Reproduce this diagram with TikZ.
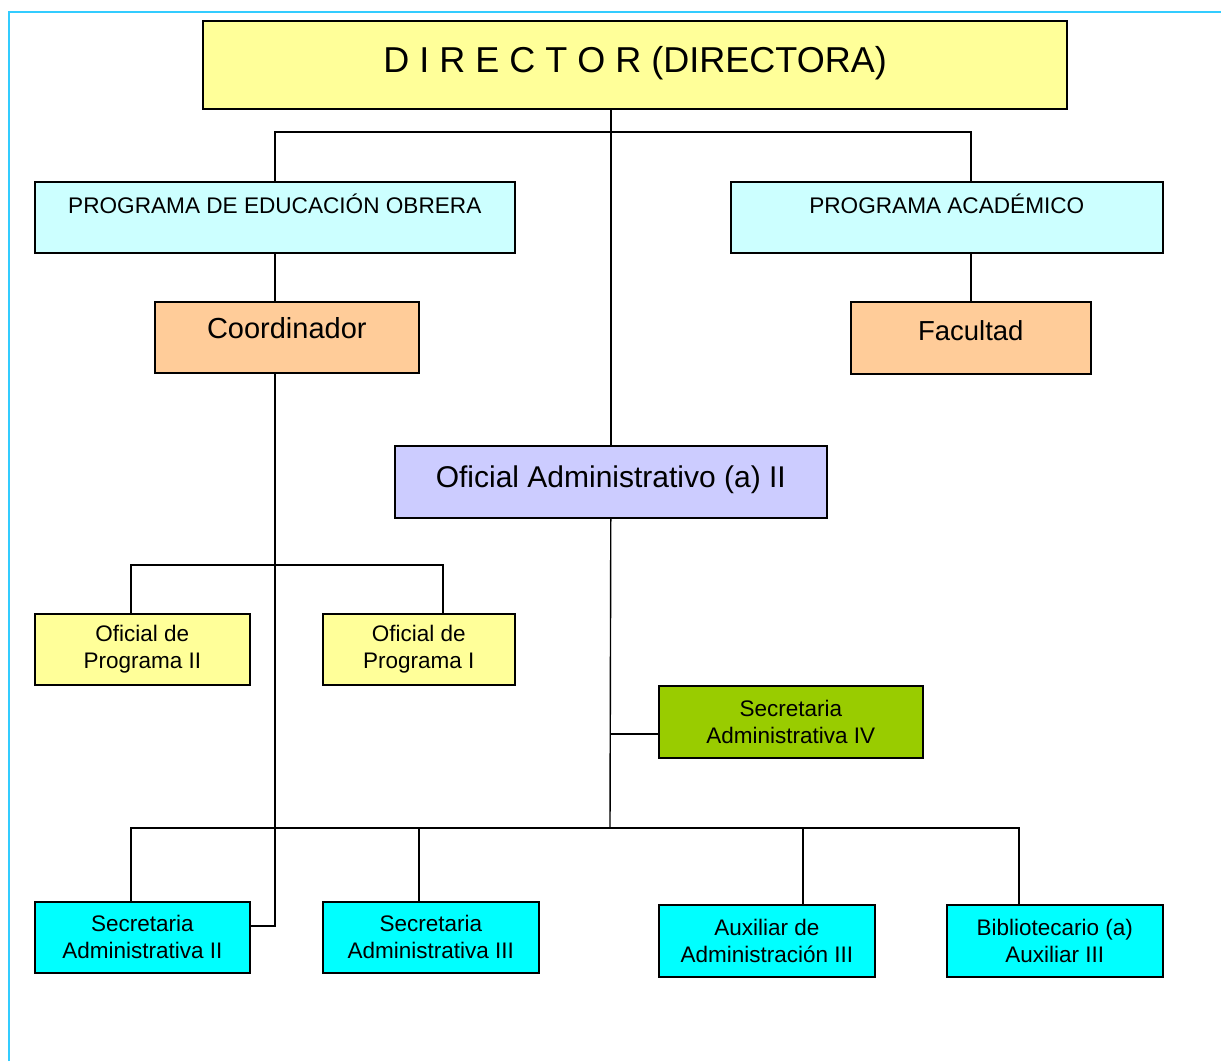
\documentclass[tikz,border=0pt]{standalone}
\usepackage{fontspec}
\setmainfont{Liberation Sans}
\definecolor{dirY}{HTML}{FFFF99}
\definecolor{progC}{HTML}{CCFFFF}
\definecolor{orgO}{HTML}{FFCC99}
\definecolor{lavL}{HTML}{CCCCFF}
\definecolor{grnG}{HTML}{99CC00}
\definecolor{cyaC}{HTML}{00FFFF}
\definecolor{frameB}{HTML}{33CCFF}
\begin{document}
\begin{tikzpicture}[x=1pt,y=-1pt,
  box/.style={draw=black, line width=1.6pt, rectangle, anchor=north west, inner sep=0pt, align=center, text=black},
  small/.style={font=\fontsize{22.5}{27}\selectfont},
  conn/.style={draw=black, line width=1.4pt}]
\useasboundingbox (0,0) rectangle (1221,1061);
\draw[frameB, line width=1.5pt] (9,1061) -- (9,12) -- (1221,12);

% boxes
\node[box, line width=2.2pt, fill=dirY, minimum width=864pt, minimum height=88pt, text depth=12pt, font=\fontsize{36}{43}\selectfont] (dir) at (202,20) {D I R E C T O R (DIRECTORA)};
\node[box, fill=progC, minimum width=480pt, minimum height=71pt, text depth=27pt, font=\fontsize{22.6}{28}\selectfont] (peo) at (34,181) {PROGRAMA DE EDUCACIÓN OBRERA};
\node[box, fill=progC, minimum width=432pt, minimum height=71pt, text depth=27pt, font=\fontsize{22.6}{28}\selectfont] (pac) at (730,181) {PROGRAMA ACADÉMICO};
\node[box, fill=orgO, minimum width=264pt, minimum height=71pt, text depth=18pt, font=\fontsize{29}{34}\selectfont] (coord) at (154,301) {Coordinador};
\node[box, fill=orgO, minimum width=240pt, minimum height=72pt, text depth=14pt, font=\fontsize{27.5}{33}\selectfont] (fac) at (850,301) {Facultad};
\node[box, fill=lavL, minimum width=432pt, minimum height=72pt, text depth=11pt, font=\fontsize{30}{36}\selectfont] (ofa) at (394,445) {Oficial Administrativo (a) II};
\node[box, small, fill=dirY, minimum width=215pt, minimum height=71pt] (op2) at (34,613) {Oficial de\\Programa II};
\node[box, small, fill=dirY, minimum width=192pt, minimum height=71pt] (op1) at (322,613) {Oficial de\\Programa I};
\node[box, small, fill=grnG, minimum width=264pt, minimum height=72pt] (s4) at (658,685) {Secretaria\\Administrativa IV};
\node[box, small, fill=cyaC, minimum width=215pt, minimum height=71pt] (s2) at (34,901) {Secretaria\\Administrativa II};
\node[box, small, fill=cyaC, minimum width=216pt, minimum height=71pt] (s3) at (322,901) {Secretaria\\Administrativa III};
\node[box, small, fill=cyaC, minimum width=216pt, minimum height=72pt] (aux) at (658,904) {Auxiliar de\\Administración III};
\node[box, small, fill=cyaC, minimum width=216pt, minimum height=72pt] (bib) at (946,904) {Bibliotecario (a)\\Auxiliar III};

% junction points
\coordinate (topbar) at (610,132);
\coordinate (opbar) at (274,565);
\coordinate (botbar) at (610,828);

% connectors
\draw[conn] (ofa.north |- dir.south) -- (ofa.north);
\draw[conn] (peo.north) |- (topbar) -| (fac.north |- pac.north);
\draw[conn] (peo.south) -- (peo.south |- coord.north);
\draw[conn] (fac.north |- pac.south) -- (fac.north);
\draw[conn] (peo.south |- coord.south) |- ([yshift=11.5pt]s2.east);
\draw[conn] ([xshift=-11.5pt]op2.north) |- (opbar) -| ([xshift=24pt]op1.north);
\draw[conn] (ofa.south) -- (botbar);
\draw[conn] ([yshift=-12pt]s4.west -| ofa.south) -- ([yshift=-12pt]s4.west);
\draw[conn] ([xshift=-11.5pt]s2.north) |- (botbar) -| ([xshift=-36pt]bib.north);
\draw[conn] ([xshift=-12pt]s3.north) -- ([xshift=-12pt]s3.north |- botbar);
\draw[conn] ([xshift=36pt]aux.north) -- ([xshift=36pt]aux.north |- botbar);
\end{tikzpicture}
\end{document}
